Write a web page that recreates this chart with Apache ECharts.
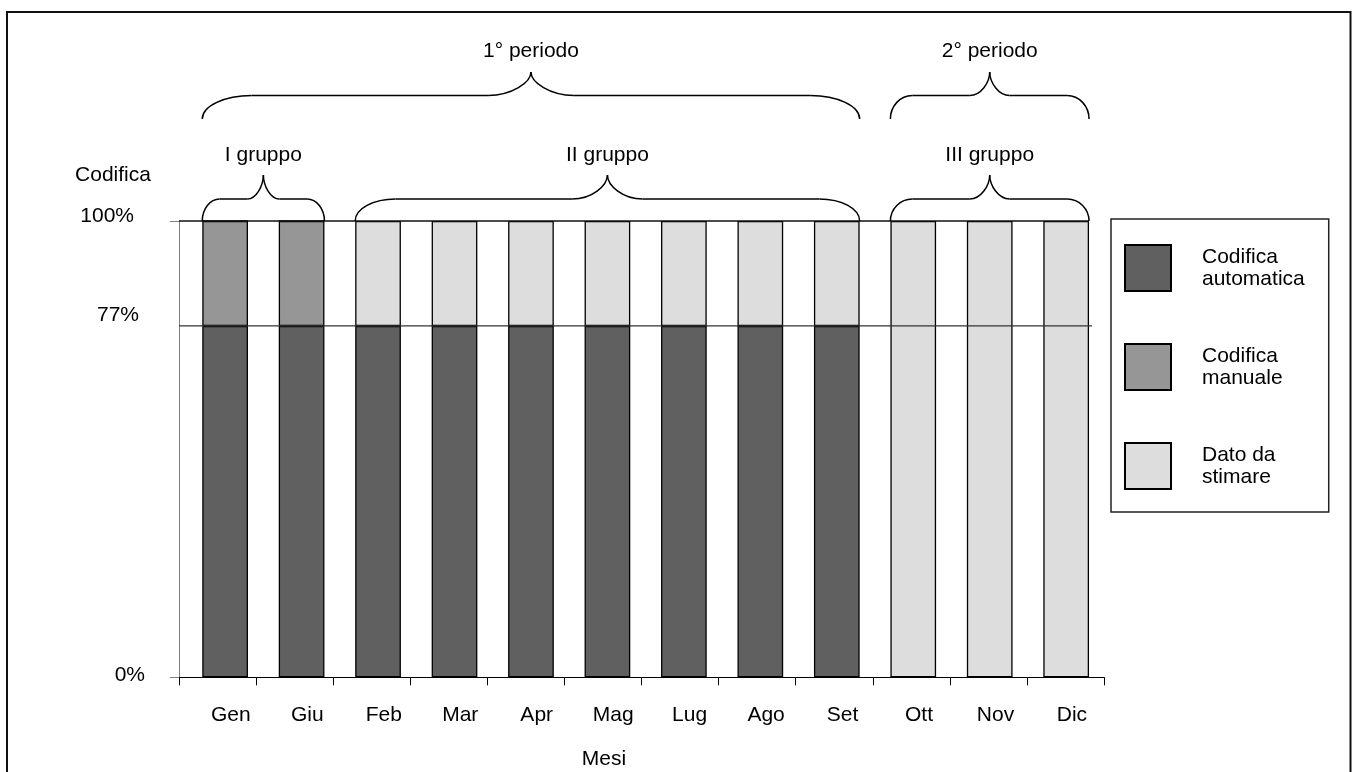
<!DOCTYPE html>
<html>
<head>
<meta charset="utf-8">
<script src="https://cdn.jsdelivr.net/npm/echarts@6/dist/echarts.min.js"></script>
<style>
  html, body { margin: 0; padding: 0; background: #fff; }
  #chart { width: 1356px; height: 772px; }
</style>
</head>
<body>
<div id="chart"></div>
<script>
// ---- data ----
const months = ['Gen', 'Giu', 'Feb', 'Mar', 'Apr', 'Mag', 'Lug', 'Ago', 'Set', 'Ott', 'Nov', 'Dic'];
const autoVals   = [77, 77, 77, 77, 77, 77, 77, 77, 77, 0, 0, 0];
const manualVals = [23, 23, 0, 0, 0, 0, 0, 0, 0, 0, 0, 0];
const stimaVals  = [0, 0, 23, 23, 23, 23, 23, 23, 23, 100, 100, 100];
const seriesNames = ['Codifica\nautomatica', 'Codifica\nmanuale', 'Dato da\nstimare'];
const yTickLabels = [0, 77, 100];
const refLines = [100, 77];
const groupNames = ['I gruppo', 'II gruppo', 'III gruppo'];
const groupFirst = ['Gen', 'Feb', 'Ott'];
const groupLast  = ['Giu', 'Set', 'Dic'];
const periodNames = ['1° periodo', '2° periodo'];
const periodFirst = ['Gen', 'Ott'];
const periodLast  = ['Set', 'Dic'];

const FONT = '"Liberation Sans", Arial, sans-serif';
const FS = 21;
const BAR_W = 45.7;

const chart = echarts.init(document.getElementById('chart'), null, { renderer: 'canvas' });

const labelRich = {
  t100: { fontSize: FS, fontFamily: FONT, color: '#000', padding: [0, 11, 9, 0] },
  t77:  { fontSize: FS, fontFamily: FONT, color: '#000', padding: [0, 6, 22, 0] },
  t0:   { fontSize: FS, fontFamily: FONT, color: '#000', padding: [0, 0, 4, 0] }
};

const barStyle = (c) => ({ color: c, borderColor: '#000', borderWidth: 1.3 });

chart.setOption({
  animation: false,
  backgroundColor: '#fff',
  textStyle: { fontFamily: FONT, color: '#000' },
  grid: [
    { left: 179, top: 221, width: 925, height: 456.3, outerBoundsMode: 'none', containLabel: false },
    { left: 186.9, top: 221, width: 917.5, height: 456.3, outerBoundsMode: 'none', containLabel: false }
  ],
  xAxis: [
    {
      type: 'category', gridIndex: 0, data: months, boundaryGap: true,
      axisLine: { show: true, lineStyle: { color: '#000', width: 1 } },
      axisTick: { show: true, length: 8, lineStyle: { color: '#000', width: 1 } },
      axisLabel: { show: false },
      name: 'Mesi', nameLocation: 'middle', nameGap: 71,
      nameTextStyle: { fontSize: FS, fontFamily: FONT, color: '#000', padding: [0, 75, 0, 0] }
    },
    {
      type: 'category', gridIndex: 1, data: months, boundaryGap: true,
      axisLine: { show: false }, axisTick: { show: false },
      axisLabel: { show: true, margin: 27, fontSize: FS, fontFamily: FONT, color: '#000', padding: [0, 0, 0, 11.5], interval: 0 }
    }
  ],
  yAxis: [
    {
      type: 'value', gridIndex: 0, min: 0, max: 100,
      axisLine: { show: true, lineStyle: { color: '#808080', width: 1 } },
      axisTick: { show: true, length: 9, customValues: [0, 100], lineStyle: { color: '#808080' } },
      splitLine: { show: false },
      axisLabel: {
        show: true, margin: 34, customValues: yTickLabels,
        formatter: (v) => '{t' + Math.round(v) + '|' + Math.round(v) + '%}',
        rich: labelRich
      },
      name: 'Codifica', nameLocation: 'end', nameGap: 35,
      nameTextStyle: { fontSize: FS, fontFamily: FONT, color: '#000', padding: [0, 132, 0, 0] }
    },
    {
      type: 'value', gridIndex: 1, min: 0, max: 100, show: false,
      splitLine: { show: false }
    }
  ],
  legend: {
    orient: 'vertical', left: 1111, top: 219,
    itemWidth: 46, itemHeight: 46, itemGap: 51,
    padding: [25, 24, 22, 13],
    borderColor: '#222', borderWidth: 1.5, backgroundColor: '#fff',
    icon: 'rect',
    selectedMode: false,
    textStyle: { fontSize: FS, fontFamily: FONT, color: '#000', lineHeight: 22, padding: [0, 0, 0, 26] },
    data: seriesNames
  },
  series: [
    { name: seriesNames[0], type: 'bar', xAxisIndex: 1, yAxisIndex: 1, stack: 'tot', barWidth: BAR_W, data: autoVals, itemStyle: barStyle('#606060') },
    { name: seriesNames[1], type: 'bar', xAxisIndex: 1, yAxisIndex: 1, stack: 'tot', barWidth: BAR_W, data: manualVals, itemStyle: barStyle('#969696') },
    { name: seriesNames[2], type: 'bar', xAxisIndex: 1, yAxisIndex: 1, stack: 'tot', barWidth: BAR_W, data: stimaVals, itemStyle: barStyle('#dddddd') }
  ]
});

// ---- annotations (braces, reference lines, border) placed through the chart's scales ----
function xc(name) { return chart.convertToPixel({ xAxisIndex: 1 }, name); }
function yv(v) { return chart.convertToPixel({ yAxisIndex: 1 }, v); }

const braceStyle = { fill: 'none', stroke: '#000', lineWidth: 1.5 };
function curve(x1, y1, cx1, cy1, cx2, cy2, x2, y2) {
  return {
    type: 'bezierCurve', silent: true, z: 10,
    shape: { x1: x1, y1: y1, cpx1: cx1, cpy1: cy1, cpx2: cx2, cpy2: cy2, x2: x2, y2: y2 },
    style: braceStyle
  };
}
function seg(x1, y1, x2, y2) {
  return { type: 'line', silent: true, z: 10, shape: { x1: x1, y1: y1, x2: x2, y2: y2 }, style: braceStyle };
}
function brace(x1, x2, yT, yM, yB) {
  const w = x2 - x1, xt = (x1 + x2) / 2;
  const r = 10 + w * 0.06, rt = 10 + w * 0.05;
  const h = yB - yM, ht = yM - yT, k = 0.5523;
  return [
    curve(x1, yB, x1, yB - k * h, x1 + r - k * r, yM, x1 + r, yM),
    seg(x1 + r, yM, xt - rt, yM),
    curve(xt - rt, yM, xt - rt + k * rt, yM, xt, yM - k * ht, xt, yT),
    curve(xt, yT, xt, yM - k * ht, xt + rt - k * rt, yM, xt + rt, yM),
    seg(xt + rt, yM, x2 - r, yM),
    curve(x2 - r, yM, x2 - r + k * r, yM, x2, yB - k * h, x2, yB)
  ];
}

const half = BAR_W / 2;
const y100 = yv(100);
let graphics = [];

graphics.push({
  type: 'rect', silent: true, z: 0,
  shape: { x: 7, y: 12, width: 1343.5, height: 800 },
  style: { fill: 'none', stroke: '#111', lineWidth: 2 }
});

const lineEnds = [xc('Dic') + half, xc('Dic') + half + 3];
const lineColors = ['#111', '#333'];
refLines.forEach((v, i) => {
  const y = yv(v);
  graphics.push({
    type: 'line', silent: true, z: 10,
    shape: { x1: 179, y1: y, x2: lineEnds[i], y2: y },
    style: { stroke: lineColors[i], lineWidth: 1.3 }
  });
});

groupNames.forEach((g, i) => {
  const x1 = xc(groupFirst[i]) - half, x2 = xc(groupLast[i]) + half;
  graphics = graphics.concat(brace(x1, x2, y100 - 46, y100 - 22, y100));
  graphics.push({
    type: 'text', silent: true, z: 10,
    x: (x1 + x2) / 2, y: 155,
    style: { text: g, fontSize: FS, fontFamily: FONT, fill: '#000', align: 'center', verticalAlign: 'middle' }
  });
});

periodNames.forEach((p, i) => {
  const x1 = xc(periodFirst[i]) - half, x2 = xc(periodLast[i]) + half;
  graphics = graphics.concat(brace(x1, x2, 72, 95.5, 119));
  graphics.push({
    type: 'text', silent: true, z: 10,
    x: (x1 + x2) / 2, y: 51.5,
    style: { text: p, fontSize: FS, fontFamily: FONT, fill: '#000', align: 'center', verticalAlign: 'middle' }
  });
});

chart.setOption({ graphic: graphics });
</script>
</body>
</html>
